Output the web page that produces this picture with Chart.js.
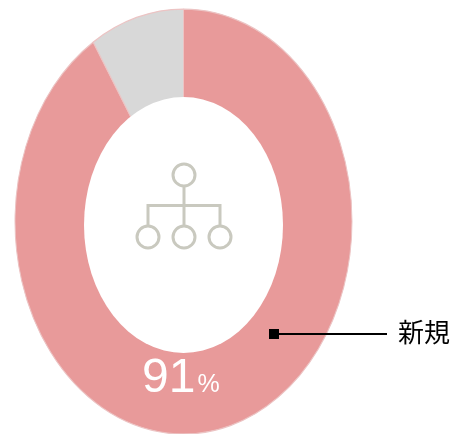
<!DOCTYPE html>
<html>
<head>
<meta charset="utf-8">
<style>
  html, body { margin: 0; padding: 0; background: #fff; }
  canvas { display: block; }
</style>
<script src="https://cdn.jsdelivr.net/npm/chart.js@4/dist/chart.umd.min.js"></script>
</head>
<body>
<canvas id="chart" width="452" height="434"></canvas>
<script>
var categories = ['新規', 'その他'];
var values = [91, 9];
var colors = ['#E89A9A', '#D8D8D8'];

// the ring in the picture is taller than it is wide
var stretchY = 1.261;

var stretch = {
  id: 'stretch',
  beforeDatasetsDraw: function (chart) {
    var arc = chart.getDatasetMeta(0).data[0];
    var ctx = chart.ctx;
    ctx.save();
    ctx.translate(0, arc.y);
    ctx.scale(1, stretchY);
    ctx.translate(0, -arc.y);
  },
  afterDatasetsDraw: function (chart) {
    var ctx = chart.ctx;
    ctx.restore();
    // the hole sits a little below the ring's centre
    ctx.save();
    ctx.fillStyle = '#fff';
    ctx.beginPath();
    ctx.ellipse(183.5, 225, 99.5, 128, 0, 0, Math.PI * 2);
    ctx.fill();
    ctx.restore();
  }
};

function ring(ctx, x, y) {
  ctx.beginPath();
  ctx.arc(x, y, 11, 0, Math.PI * 2);
  ctx.stroke();
}

var extras = {
  id: 'extras',
  afterDraw: function (chart) {
    var ctx = chart.ctx;
    ctx.save();

    // tree icon in the hole
    ctx.strokeStyle = '#C9C9BF';
    ctx.lineWidth = 3;
    ring(ctx, 184, 175);
    ring(ctx, 148, 237);
    ring(ctx, 184, 237);
    ring(ctx, 220, 237);
    ctx.beginPath();
    ctx.moveTo(184, 186);
    ctx.lineTo(184, 226);
    ctx.moveTo(148, 226);
    ctx.lineTo(148, 205.5);
    ctx.lineTo(220, 205.5);
    ctx.lineTo(220, 226);
    ctx.stroke();

    // percent label
    ctx.fillStyle = '#fff';
    ctx.textBaseline = 'alphabetic';
    ctx.textAlign = 'left';
    ctx.font = '48px "Liberation Sans"';
    ctx.fillText(String(values[0]), 142, 391.5);
    ctx.font = '25px "Liberation Sans"';
    ctx.fillText('%', 197.5, 391.5);

    // leader line and category label
    ctx.fillStyle = '#000';
    ctx.fillRect(269, 329, 10, 10);
    ctx.fillRect(279, 333, 108, 2);
    ctx.font = '26px "Noto Sans CJK JP"';
    ctx.textBaseline = 'middle';
    ctx.fillText(categories[0], 398, 332);

    ctx.restore();
  }
};

var chart = new Chart(document.getElementById('chart').getContext('2d'), {
  type: 'doughnut',
  data: {
    labels: categories,
    datasets: [{
      data: values,
      backgroundColor: colors,
      borderColor: '#ECC4C4',
      borderWidth: 1,
      clip: false
    }]
  },
  options: {
    responsive: false,
    animation: false,
    cutout: '50%',
    layout: { padding: { left: 14.5, right: 99.5, top: 52.5, bottom: 43.5 } },
    plugins: { legend: { display: false }, tooltip: { enabled: false } }
  },
  plugins: [stretch, extras]
});
</script>
</body>
</html>
